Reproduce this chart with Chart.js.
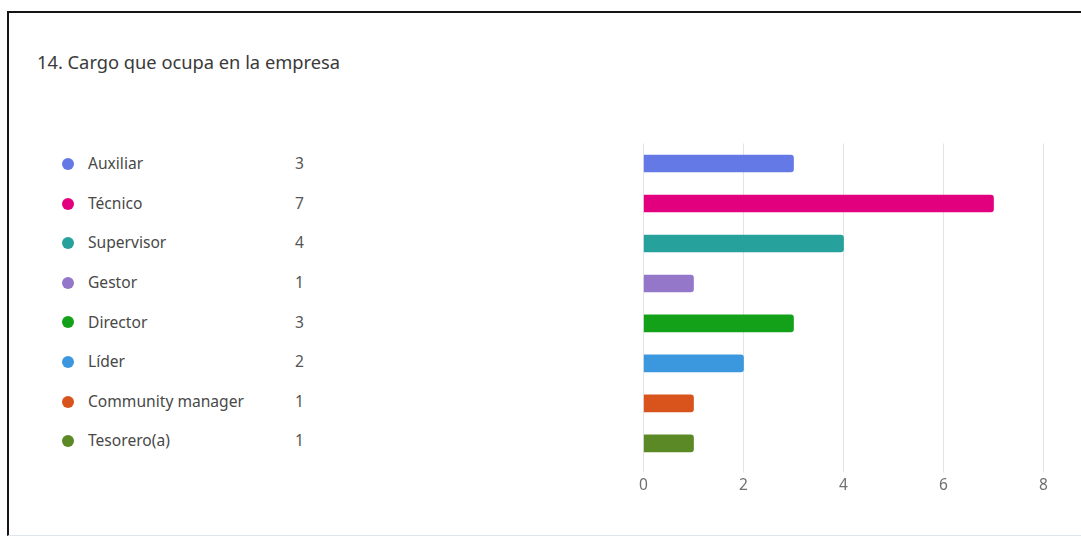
<!DOCTYPE html>
<html>
<head>
<meta charset="utf-8">
<script src="https://cdn.jsdelivr.net/npm/chart.js@4/dist/chart.umd.min.js"></script>
<style>
  html, body { margin: 0; padding: 0; background: #fff; }
  body { width: 1081px; height: 538px; position: relative; overflow: hidden; font-family: "Noto Sans", "Open Sans", sans-serif; }
  #card {
    position: absolute; left: 7px; top: 11px; right: -10px; bottom: 2px;
    border-top: 2px solid #151515; border-left: 2px solid #151515;
    border-bottom: 1px solid #dde6ef;
  }
  #titulo {
    position: absolute; left: 37px; top: 51px; line-height: 22px;
    font-size: 18.3px; color: #3a3a3a; white-space: nowrap;
  }
  #leyenda { position: absolute; left: 0; top: 144.2px; width: 340px; }
  .fila { position: relative; height: 39.6px; line-height: 39.6px; font-size: 15.6px; color: #484848; }
  .punto { position: absolute; left: 62px; top: 13.8px; width: 12px; height: 12px; border-radius: 50%; }
  .nombre { position: absolute; left: 88px; }
  .cuenta { position: absolute; left: 295px; color: #555; }
  #grafico { position: absolute; left: 600px; top: 130px; }
</style>
</head>
<body>
<div id="card"></div>
<div id="titulo">14. Cargo que ocupa en la empresa</div>
<div id="leyenda"></div>
<canvas id="grafico" width="481" height="400"></canvas>

<script>
var cargos = ["Auxiliar", "Técnico", "Supervisor", "Gestor", "Director", "Líder", "Community manager", "Tesorero(a)"];
var respuestas = [3, 7, 4, 1, 3, 2, 1, 1];
var colores = ["#6579e6", "#e2007f", "#27a19c", "#9577c9", "#14a11a", "#3b97de", "#d9531d", "#5b8926"];
var ticksX = [0, 2, 4, 6, 8];

// leyenda con el conteo de cada cargo
var leyenda = document.getElementById("leyenda");
cargos.forEach(function(cargo, i) {
    var fila = document.createElement("div");
    fila.className = "fila";
    fila.innerHTML = '<span class="punto" style="background:' + colores[i] + '"></span>' +
        '<span class="nombre">' + cargo + '</span>' +
        '<span class="cuenta">' + respuestas[i] + '</span>';
    leyenda.appendChild(fila);
});

var ctx = document.getElementById("grafico");

var config = {
    type: 'bar',
    data: {
        labels: cargos,
        datasets: [
            {
                label: "",
                data: respuestas,
                backgroundColor: colores,
                barThickness: 17,
                borderRadius: 3,
                borderSkipped: 'start'
            }
        ]
    },
    options: {
        indexAxis: 'y',
        responsive: false,
        animation: false,
        layout: {
            padding: { left: 43.5, top: 13.5, right: 37.5, bottom: 31 }
        },
        plugins: {
            legend: { display: false },
            tooltip: { enabled: false }
        },
        scales: {
            x: {
                min: ticksX[0],
                max: ticksX[ticksX.length - 1],
                afterBuildTicks: function(scale) {
                    scale.ticks = ticksX.map(function(v) { return { value: v }; });
                },
                grid: { color: "#e3e3e3", tickLength: 9 },
                border: { display: false },
                ticks: {
                    padding: 4,
                    color: "#707070",
                    font: { family: "Noto Sans", size: 15.5 }
                }
            },
            y: {
                display: false
            }
        }
    }
};

var chart = new Chart(ctx, config);
</script>
</body>
</html>
